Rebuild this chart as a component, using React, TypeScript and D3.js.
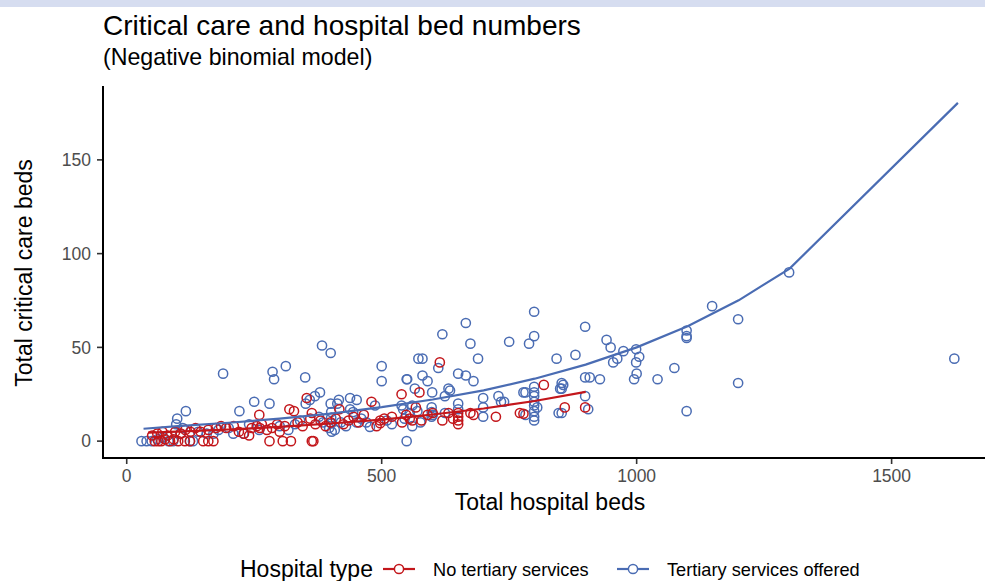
import React from 'react';
import * as d3 from 'd3';

// axis ticks
const xTicks = [0, 500, 1000, 1500];
const yTicks = [0, 50, 100, 150];

const seriesNames = ['No tertiary services', 'Tertiary services offered'];

// [total hospital beds, total critical care beds]
const noTertiary: [number, number][] = [
  [55, 0], [62, 0], [68, 0], [75, 1], [85, 0], [92, 1], [101, 0], [114, 0], [124, 0],
  [150, 0], [160, 0], [170, 0], [280, 0], [306, 0], [322, 0], [363, 0], [366, 0],
  [50, 3], [60, 4], [70, 5], [80, 3], [95, 5], [106, 4], [115, 6], [125, 5], [135, 7],
  [145, 5], [160, 6], [175, 7], [185, 8], [195, 7], [210, 8], [220, 5], [230, 4], [240, 3],
  [245, 7], [255, 8], [261, 7], [265, 9], [275, 6], [285, 7], [295, 9], [300, 5], [310, 8],
  [319, 17], [328, 16], [335, 10], [345, 8], [353, 23], [360, 12], [363, 15], [370, 9],
  [380, 11], [390, 8], [400, 10], [410, 12], [417, 17], [425, 9], [435, 11], [445, 13],
  [455, 10], [465, 14], [480, 21], [490, 8], [497, 11], [497, 9.6], [505, 12], [520, 13],
  [539, 25], [540, 10], [548, 14], [555, 12], [560, 11], [567, 18], [574, 26], [578, 11],
  [590, 14], [600, 15], [614, 42], [619, 11], [631, 15], [640, 12], [650, 15], [650, 11],
  [650, 13], [650, 9], [674, 15], [680, 14], [724, 13], [771, 15], [778, 14.6], [818, 30],
  [859, 18], [899, 18], [260, 14]
];

const tertiary: [number, number][] = [
  [29, 0], [39, 0], [49, 0], [82, 0], [91, 0], [124, 0], [130, 0], [549, 0],
  [157, 4], [170, 4], [209, 4], [229, 4], [97, 9], [99, 12], [116, 16], [221, 16], [250, 21],
  [280, 20], [189, 36], [286, 37], [289, 33], [312, 40], [350, 34], [383, 51], [400, 47],
  [500, 40], [500, 32], [549, 33], [572, 44],
  [351, 20], [359, 22], [369, 24], [379, 26], [413, 20], [416, 22], [438, 23], [451, 22],
  [400, 20], [401, 15.5], [401, 12.6], [401, 9.4], [402, 5], [438, 17], [444, 15.5], [487, 19],
  [451, 10], [477, 7.6], [317, 6], [377, 13], [397, 7], [408, 6], [539, 19], [542, 17],
  [555, 15], [560, 19], [570, 16],
  [580, 44], [580, 35], [590, 32], [550, 33], [565, 28], [599, 26], [611, 39], [619, 57],
  [624, 24], [631, 28], [634, 27], [650, 36], [650, 20], [650, 17], [665, 63], [665, 35],
  [674, 52], [680, 32], [689, 44], [699, 23], [699, 18], [699, 13], [729, 24], [734, 21],
  [740, 21], [750, 53], [778, 26], [782, 26], [782, 14], [789, 52], [799, 69], [799, 56],
  [799, 29], [799, 26], [799, 24], [799, 21], [799, 19], [799, 16], [799, 13], [799, 11],
  [805, 18], [843, 44], [850, 28], [853, 31], [847, 15], [853, 28], [856, 30], [853, 15],
  [880, 46], [899, 61], [899, 34], [899, 24], [905, 17], [908, 34], [928, 33], [941, 54],
  [949, 50], [954, 42], [962, 44], [974, 48], [999, 49], [999, 42], [1005, 45], [1000, 36],
  [995, 33], [1041, 33], [1074, 39], [1098, 59], [1098, 56], [1098, 55], [1098, 16],
  [1148, 72], [1199, 65], [1199, 31], [1299, 90], [1623, 44],
  [545, 12], [576, 10], [560, 8], [598, 18], [598, 15.5], [598, 13], [624, 15], [600, 14],
  [60, 1], [72, 2], [105, 4], [110, 7], [140, 5], [180, 6], [200, 7], [240, 9], [260, 6],
  [300, 8], [330, 9], [340, 11], [385, 10], [420, 10], [430, 8], [460, 12], [470, 10],
  [510, 11], [520, 9]
];

// model fits
const fitNoTertiary: [number, number][] = [
  [42, 4.5], [100, 5.1], [200, 6.2], [300, 7.6], [400, 9.4], [500, 11.5],
  [600, 14.2], [700, 17.4], [800, 21.4], [900, 26.3]
];
const fitTertiary: [number, number][] = [
  [33, 6.6], [100, 8.0], [200, 9.8], [300, 12.0], [400, 14.7], [500, 18.1], [600, 22.2],
  [700, 27.1], [800, 33.3], [900, 40.8], [1000, 50.0], [1100, 61.3], [1200, 75.1],
  [1300, 92.0], [1630, 180.4]
];

const RED = '#c3161b';
const BLUE = '#4a6cb3';
const FONT = '"Liberation Sans", Arial, Helvetica, sans-serif';

function App() {
  const ref = React.useRef<SVGSVGElement>(null);

  React.useEffect(() => {
    const svg = d3.select(ref.current);
    svg.selectAll('*').remove();

    var x = d3.scaleLinear().domain([-46.5, 1710]).range([103, 998.7]);
    var y = d3.scaleLinear().domain([-9, 189.4]).range([458, 86]);

    // top band
    svg.append('rect').attr('x', 0).attr('y', 0).attr('width', 985).attr('height', 7)
      .attr('fill', '#d6ddf0');

    // titles
    svg.append('text').attr('x', 103).attr('y', 35).attr('font-size', 28)
      .attr('fill', '#000').text('Critical care and hospital bed numbers');
    svg.append('text').attr('x', 103).attr('y', 64.5).attr('font-size', 23.2)
      .attr('fill', '#000').text('(Negative binomial model)');

    // points
    var groups: [[number, number][], string][] = [[tertiary, BLUE], [noTertiary, RED]];
    groups.forEach(([data, col]) => {
      svg.append('g').selectAll('circle').data(data).enter().append('circle')
        .attr('cx', d => x(d[0]))
        .attr('cy', d => y(d[1]))
        .attr('r', 4.6)
        .attr('fill', 'none')
        .attr('stroke', col)
        .attr('stroke-width', 1.5);
    });

    // fitted lines
    var line = d3.line<[number, number]>().x(d => x(d[0])).y(d => y(d[1]));
    [[fitNoTertiary, RED], [fitTertiary, BLUE]].forEach(([data, col]) => {
      svg.append('path').attr('d', line(data as [number, number][]))
        .attr('fill', 'none').attr('stroke', col as string).attr('stroke-width', 2.2);
    });

    // axes
    var xAxis = svg.append('g');
    xAxis.append('line').attr('x1', 103).attr('x2', 999).attr('y1', 458).attr('y2', 458)
      .attr('stroke', '#000').attr('stroke-width', 2);
    xTicks.forEach(t => {
      xAxis.append('line').attr('x1', x(t)).attr('x2', x(t)).attr('y1', 459).attr('y2', 464)
        .attr('stroke', '#333').attr('stroke-width', 1.6);
      xAxis.append('text').attr('x', x(t)).attr('y', 482).attr('text-anchor', 'middle')
        .attr('font-size', 17.5).attr('fill', '#4d4d4d').text(t);
    });
    var yAxis = svg.append('g');
    yAxis.append('line').attr('x1', 103).attr('x2', 103).attr('y1', 86).attr('y2', 459)
      .attr('stroke', '#000').attr('stroke-width', 2);
    yTicks.forEach(t => {
      yAxis.append('line').attr('x1', 97).attr('x2', 102).attr('y1', y(t)).attr('y2', y(t))
        .attr('stroke', '#333').attr('stroke-width', 1.6);
      yAxis.append('text').attr('x', 91).attr('y', y(t) + 6.2).attr('text-anchor', 'end')
        .attr('font-size', 17.5).attr('fill', '#4d4d4d').text(t);
    });

    svg.append('text').attr('x', 550).attr('y', 510).attr('text-anchor', 'middle')
      .attr('font-size', 23).attr('fill', '#000').text('Total hospital beds');
    svg.append('text').attr('transform', 'translate(31.5,273) rotate(-90)')
      .attr('text-anchor', 'middle').attr('font-size', 23).attr('fill', '#000')
      .text('Total critical care beds');

    // legend
    var legend = svg.append('g');
    legend.append('text').attr('x', 240).attr('y', 577).attr('font-size', 23)
      .attr('fill', '#000').text('Hospital type');
    var keys = [
      { x0: 383, tx: 433, col: RED },
      { x0: 617, tx: 667, col: BLUE }
    ];
    keys.forEach((k, i) => {
      legend.append('line').attr('x1', k.x0).attr('x2', k.x0 + 32).attr('y1', 569).attr('y2', 569)
        .attr('stroke', k.col).attr('stroke-width', 2.2);
      legend.append('circle').attr('cx', k.x0 + 16).attr('cy', 569).attr('r', 4.6)
        .attr('fill', '#fff').attr('stroke', k.col).attr('stroke-width', 1.5);
      legend.append('text').attr('x', k.tx).attr('y', 575.5).attr('font-size', 18.2)
        .attr('fill', '#000').text(seriesNames[i]);
    });
  }, []);

  return (
    <svg ref={ref} width={985} height={581}
      style={{ position: 'absolute', left: 0, top: 0, background: '#fff', fontFamily: FONT }} />
  );
}

export default App;
